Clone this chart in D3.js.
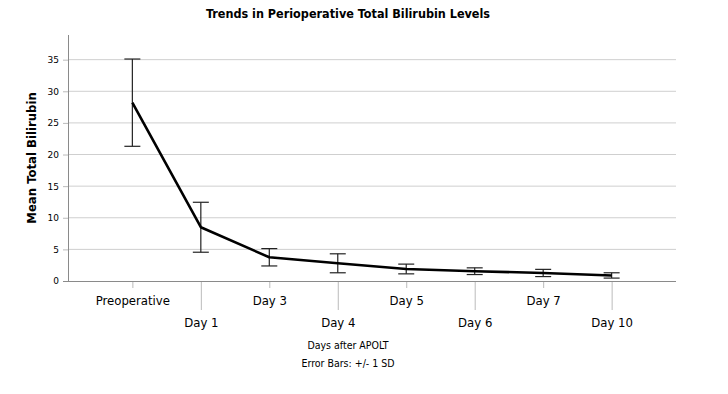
<!DOCTYPE html>
<html>
<head>
<meta charset="utf-8">
<script src="https://cdn.jsdelivr.net/npm/d3@7"></script>
<style>
  body { margin: 0; background: #fff; }
  text { font-family: "DejaVu Sans Condensed", "DejaVu Sans", sans-serif; fill: #000; }
</style>
</head>
<body>
<div id="chart"></div>
<script>
// data
const days = ['Preoperative', 'Day 1', 'Day 3', 'Day 4', 'Day 5', 'Day 6', 'Day 7', 'Day 10']
const meanBili = [28.2, 8.5, 3.75, 2.8, 1.9, 1.55, 1.27, 0.88]
const sdBili = [6.9, 3.95, 1.37, 1.5, 0.77, 0.53, 0.57, 0.42]
const yTicks = [0, 5, 10, 15, 20, 25, 30, 35]

const W = 728, H = 394
const plotL = 68, plotR = 676, plotT = 35, plotB = 281

const svg = d3.select('#chart').append('svg')
  .attr('width', W).attr('height', H)

const x = d3.scalePoint()
  .domain(days)
  .range([plotL, plotR])
  .padding(0.94)

const y = d3.scaleLinear()
  .domain([0, 38.9])
  .range([plotB, plotT])

// gridlines
svg.append('g')
  .selectAll('line')
  .data(yTicks.filter(d => d > 0))
  .enter().append('line')
  .attr('x1', plotL).attr('x2', plotR)
  .attr('y1', d => y(d)).attr('y2', d => y(d))
  .attr('stroke', '#cfcfcf').attr('stroke-width', 1)

// y axis
const yAxis = svg.append('g')
  .attr('transform', 'translate(' + plotL + ',0)')
  .call(d3.axisLeft(y).tickValues(yTicks).tickSize(5).tickPadding(4))
yAxis.select('.domain').attr('stroke', '#8a8a8a')
  .attr('d', 'M0.5,' + plotB + 'V' + plotT)
yAxis.selectAll('.tick line').attr('stroke', '#bbb')
yAxis.selectAll('text')
  .style('font-size', '9px')
  .style('font-family', '"DejaVu Sans", sans-serif')

// x axis, alternating label rows
const xAxis = svg.append('g')
  .attr('transform', 'translate(0,' + plotB + ')')
  .call(d3.axisBottom(x).tickSize(0).tickFormat(''))
xAxis.select('.domain').attr('stroke', '#8a8a8a')
  .attr('d', 'M' + (plotL - 5) + ',0.5H' + plotR)

xAxis.selectAll('.tick').each(function(d, i) {
  const g = d3.select(this)
  const low = i % 2 === 1
  g.append('line')
    .attr('y1', 1).attr('y2', low ? 29 : 7)
    .attr('stroke', '#bbb')
  g.append('text')
    .attr('y', low ? 46 : 24)
    .attr('text-anchor', 'middle')
    .style('font-size', '13px')
    .text(d)
})

// error bars
const eb = svg.append('g').attr('class', 'errbars')
days.forEach((d, i) => {
  const cx = x(d)
  const hi = y(meanBili[i] + sdBili[i])
  const lo = y(meanBili[i] - sdBili[i])
  eb.append('line').attr('x1', cx).attr('x2', cx).attr('y1', hi).attr('y2', lo)
    .attr('stroke', '#222').attr('stroke-width', 1.2)
  eb.append('line').attr('x1', cx - 8).attr('x2', cx + 8).attr('y1', hi).attr('y2', hi)
    .attr('stroke', '#222').attr('stroke-width', 1.2)
  eb.append('line').attr('x1', cx - 8).attr('x2', cx + 8).attr('y1', lo).attr('y2', lo)
    .attr('stroke', '#222').attr('stroke-width', 1.2)
})

// mean line
const line = d3.line()
  .x((d, i) => x(days[i]))
  .y(d => y(d))
svg.append('path')
  .datum(meanBili)
  .attr('d', line)
  .attr('fill', 'none')
  .attr('stroke', '#000')
  .attr('stroke-width', 2.6)
  .attr('stroke-linejoin', 'round')

// title and labels
svg.append('text')
  .attr('x', 348).attr('y', 18)
  .attr('text-anchor', 'middle')
  .style('font-size', '12.5px').style('font-weight', 'bold')
  .text('Trends in Perioperative Total Bilirubin Levels')

svg.append('text')
  .attr('transform', 'translate(36,' + ((plotT + plotB) / 2) + ') rotate(-90)')
  .attr('text-anchor', 'middle')
  .style('font-size', '13px').style('font-weight', 'bold')
  .text('Mean Total Bilirubin')

svg.append('text')
  .attr('x', 348).attr('y', 349)
  .attr('text-anchor', 'middle')
  .style('font-size', '10.5px')
  .text('Days after APOLT')

svg.append('text')
  .attr('x', 348).attr('y', 367)
  .attr('text-anchor', 'middle')
  .style('font-size', '10.5px')
  .text('Error Bars: +/- 1 SD')
</script>
</body>
</html>
